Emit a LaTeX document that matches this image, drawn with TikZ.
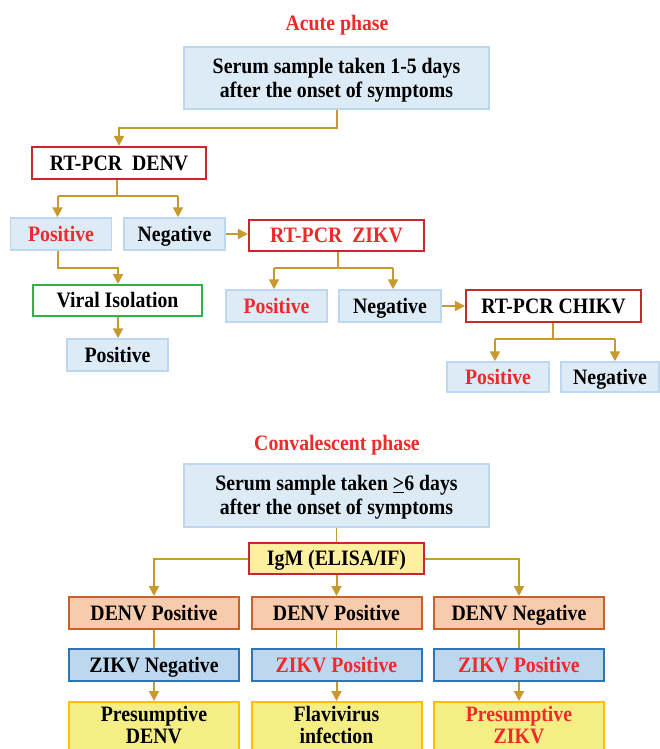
\documentclass[tikz,border=0pt]{standalone}
\usepackage{fontspec}
\setmainfont{Liberation Serif}[FakeStretch=0.9]
\usetikzlibrary{arrows.meta,calc}
\definecolor{conncol}{HTML}{C89A2E}
\definecolor{redtxt}{HTML}{EE2A2A}
\definecolor{lbfill}{HTML}{DDEBF7}
\definecolor{lbdraw}{HTML}{BDD7EE}
\definecolor{redbd}{HTML}{C6282E}
\definecolor{greenbd}{HTML}{2DB34A}
\definecolor{igmfill}{HTML}{FFF0A0}
\definecolor{orfill}{HTML}{F8CBAD}
\definecolor{ordraw}{HTML}{C9622A}
\definecolor{blfill}{HTML}{BDD7EE}
\definecolor{bldraw}{HTML}{2E75B6}
\definecolor{yefill}{HTML}{F5EE85}
\definecolor{yedraw}{HTML}{FFC000}
\begin{document}
\begin{tikzpicture}[x=1pt,y=-1pt,
  every node/.style={font=\bfseries\fontsize{22}{24}\selectfont, inner sep=0pt, align=center,
    text height=14.5pt, text depth=0pt},
  twoline/.style={text height=38.5pt, text depth=0pt},
  lbox/.style={rectangle, fill=lbfill, draw=lbdraw, line width=1.5pt},
  rbox/.style={rectangle, fill=white, draw=redbd, line width=2.2pt},
  gbox/.style={rectangle, fill=white, draw=greenbd, line width=2pt},
  ibox/.style={rectangle, fill=igmfill, draw=redbd, line width=2.5pt},
  obox/.style={rectangle, fill=orfill, draw=ordraw, line width=2pt},
  bbox/.style={rectangle, fill=blfill, draw=bldraw, line width=2pt},
  ybox/.style={rectangle, fill=yefill, draw=yedraw, line width=2pt,
    font=\bfseries\fontsize{22}{22}\selectfont, text height=36.5pt, text depth=10.5pt,
    minimum width=170pt, minimum height=56pt},
  title/.style={text=redtxt},
  conn/.style={draw=conncol, line width=2pt},
  thin/.style={draw=conncol, line width=1pt},
  arr/.style={conn, -{Triangle[width=10pt,length=10pt]}}
]
\useasboundingbox (0,0) rectangle (660,749);
\clip (0,0) rectangle (660,749);

% ---------- Acute phase ----------
\node[title] (t1) at (337,23) {Acute phase};
\node[lbox, twoline, minimum width=305pt, minimum height=62pt] (s1) at (336.5,78)
  {Serum sample taken 1-5 days\\after the onset of symptoms};
\node[rbox, minimum width=174pt, minimum height=32pt] (denv) at (119,163) {RT-PCR\ \ DENV};
\node[lbox, minimum width=101pt, minimum height=32pt, text=redtxt] (pos1) at (61,234) {Positive};
\node[lbox, minimum width=101pt, minimum height=32pt] (neg1) at (174.5,234) {Negative};
\node[rbox, minimum width=175pt, minimum height=31pt, text=redtxt] (zikv) at (336.5,235.5) {RT-PCR\ \ ZIKV};
\node[gbox, minimum width=169pt, minimum height=31pt] (vi) at (117.5,300.5) {Viral Isolation};
\node[lbox, minimum width=101pt, minimum height=32pt] (pos2) at (117.5,355) {Positive};
\node[lbox, minimum width=101pt, minimum height=32pt, text=redtxt] (pos3) at (276.5,306) {Positive};
\node[lbox, minimum width=102pt, minimum height=32pt] (neg3) at (390,306) {Negative};
\node[rbox, minimum width=175pt, minimum height=32pt] (chikv) at (553.5,306) {RT-PCR CHIKV};
\node[lbox, minimum width=102pt, minimum height=30pt, text=redtxt] (pos4) at (498,377) {Positive};
\node[lbox, minimum width=98pt, minimum height=30pt] (neg4) at (610,377) {Negative};

% connectors (acute)
\coordinate (k1) at (336.5,128);
\draw[arr] (s1.south) -- (k1) -| (denv.north);
\coordinate (a1) at (57.5,196);
\coordinate (a2) at (178,196);
\draw[conn] (denv.south -| 117,0) -- (117,196);
\draw[conn] (a1) -- (a2);
\draw[arr] (a1) -- (a1 |- pos1.north);
\draw[arr] (a2) -- (a2 |- neg1.north);
\draw[arr] (neg1.east) -- (neg1.east -| zikv.west);
\coordinate (b1) at (57.5,268);
\coordinate (b2) at (118,268);
\draw[arr] (b1 |- pos1.south) -- (b1) -- (b2) -- (b2 |- vi.north);
\draw[arr] (vi.south -| b2) -- (b2 |- pos2.north);
\coordinate (c1) at (274,268);
\coordinate (c2) at (393,268);
\draw[conn] (zikv.south -| 337.5,0) -- (337.5,268);
\draw[conn] (c1) -- (c2);
\draw[arr] (c1) -- (c1 |- pos3.north);
\draw[arr] (c2) -- (c2 |- neg3.north);
\draw[arr] (neg3.east) -- (neg3.east -| chikv.west);
\coordinate (e1) at (495,339);
\coordinate (e2) at (615,339);
\draw[conn] (chikv.south -| 553,0) -- (553,339);
\draw[conn] (e1) -- (e2);
\draw[arr] (e1) -- (e1 |- pos4.north);
\draw[arr] (e2) -- (e2 |- neg4.north);

% ---------- Convalescent phase ----------
\node[title] (t2) at (337,443) {Convalescent phase};
\node[lbox, twoline, minimum width=305pt, minimum height=63pt] (s2) at (336.5,495.5)
  {Serum sample taken \underline{>}6 days\\after the onset of symptoms};
\node[ibox, minimum width=175pt, minimum height=31pt] (igm) at (336.5,558.5) {IgM (ELISA/IF)};
\node[obox, minimum width=170pt, minimum height=32pt] (d1) at (154,613) {DENV Positive};
\node[obox, minimum width=170pt, minimum height=32pt] (d2) at (336.5,613) {DENV Positive};
\node[obox, minimum width=170pt, minimum height=32pt] (d3) at (519,613) {DENV Negative};
\node[bbox, minimum width=170pt, minimum height=32pt] (z1) at (154,665) {ZIKV Negative};
\node[bbox, minimum width=170pt, minimum height=32pt, text=redtxt] (z2) at (336.5,665) {ZIKV Positive};
\node[bbox, minimum width=170pt, minimum height=32pt, text=redtxt] (z3) at (519,665) {ZIKV Positive};
\node[ybox] (y1) at (154,730) {Presumptive\\DENV};
\node[ybox] (y2) at (336.5,730) {Flavivirus\\infection};
\node[ybox, text=redtxt] (y3) at (519,730) {Presumptive\\ZIKV};

% connectors (convalescent)
\draw[thin] (s2.south) -- (igm.north);
\draw[arr] (igm.west) -| (d1.north);
\draw[arr] (igm.east) -| (d3.north);
\draw[arr] (igm.south) -- (d2.north);
\draw[thin, line width=1.5pt] (d1.south) -- (z1.north);
\draw[thin, line width=1.5pt] (d2.south) -- (z2.north);
\draw[thin, line width=1.5pt] (d3.south) -- (z3.north);
\draw[arr] (z1.south) -- (y1.north);
\draw[arr] (z2.south) -- (y2.north);
\draw[arr] (z3.south) -- (y3.north);
\end{tikzpicture}
\end{document}
